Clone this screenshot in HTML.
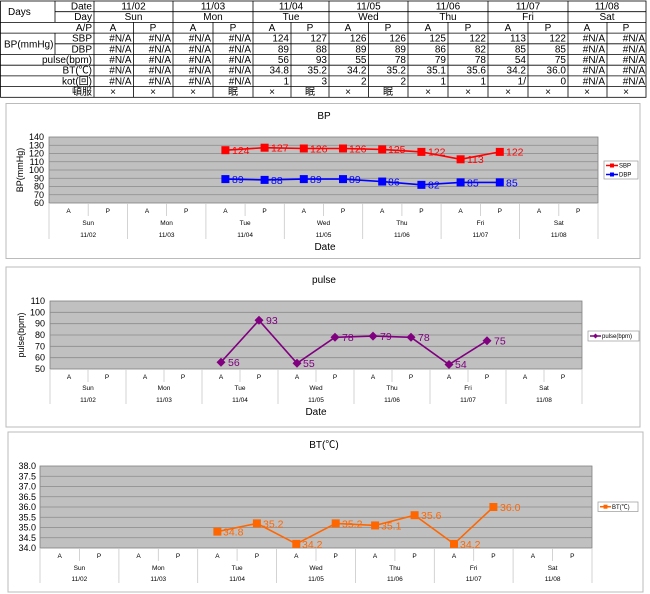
<!DOCTYPE html>
<html><head><meta charset="utf-8"><style>
html,body{margin:0;padding:0;background:#fff;width:650px;height:594px;overflow:hidden}
svg{display:block;font-family:"Liberation Sans","Noto Sans CJK JP",sans-serif}
.t{font-size:10px;fill:#000}
.e{text-anchor:end}.m{text-anchor:middle}
.ax{font-size:9px;fill:#000;text-anchor:end}
.c{font-size:6.5px;fill:#000;text-anchor:middle}
.ttl{font-size:10px;fill:#000;text-anchor:middle}
</style></head><body>
<svg width="650" height="594" viewBox="0 0 650 594" xmlns="http://www.w3.org/2000/svg">
<!-- TABLE -->
<g stroke="#000" stroke-width="0.8" fill="none">
<rect x="0.5" y="1" width="645.5" height="96.3"/>
<line x1="55" y1="1" x2="55" y2="22.4"/><line x1="55" y1="33.1" x2="55" y2="54.5"/>
<line x1="94" y1="1" x2="94" y2="97.3"/>
<line x1="173" y1="1" x2="173" y2="97.3"/><line x1="253" y1="1" x2="253" y2="97.3"/><line x1="329" y1="1" x2="329" y2="97.3"/><line x1="408" y1="1" x2="408" y2="97.3"/><line x1="488" y1="1" x2="488" y2="97.3"/><line x1="568" y1="1" x2="568" y2="97.3"/>
<g>
<line x1="133.5" y1="22.4" x2="133.5" y2="97.3"/><line x1="213" y1="22.4" x2="213" y2="97.3"/><line x1="291" y1="22.4" x2="291" y2="97.3"/><line x1="368.5" y1="22.4" x2="368.5" y2="97.3"/><line x1="448" y1="22.4" x2="448" y2="97.3"/><line x1="528" y1="22.4" x2="528" y2="97.3"/><line x1="607" y1="22.4" x2="607" y2="97.3"/>
</g>
<line x1="55" y1="11.7" x2="646" y2="11.7"/>
<line x1="0" y1="22.4" x2="646" y2="22.4"/>
<line x1="0" y1="33.1" x2="646" y2="33.1"/>
<line x1="55" y1="43.8" x2="646" y2="43.8"/>
<line x1="0" y1="54.5" x2="646" y2="54.5"/>
<line x1="0" y1="65.2" x2="646" y2="65.2"/>
<line x1="0" y1="75.9" x2="646" y2="75.9"/>
<line x1="0" y1="86.6" x2="646" y2="86.6"/>
</g>
<g class="t">
<text x="8" y="15">Days</text>
<text x="4" y="47.5">BP(mmHg)</text>
<text class="e" x="92" y="9.5">Date</text>
<text class="e" x="92" y="20.2">Day</text>
<text class="e" x="92" y="30.9">A/P</text>
<text class="e" x="92" y="41.6">SBP</text>
<text class="e" x="92" y="52.3">DBP</text>
<text class="e" x="92" y="63">pulse(bpm)</text>
<text class="e" x="92" y="73.7">BT(℃)</text>
<text class="e" x="92" y="84.4">kot(回)</text>
<text class="e" x="92" y="95.1">頓服</text>
<g class="m">
<text x="133.5" y="9.5">11/02</text><text x="213" y="9.5">11/03</text><text x="291" y="9.5">11/04</text><text x="368.5" y="9.5">11/05</text><text x="448" y="9.5">11/06</text><text x="528" y="9.5">11/07</text><text x="607" y="9.5">11/08</text>
<text x="133.5" y="20.2">Sun</text><text x="213" y="20.2">Mon</text><text x="291" y="20.2">Tue</text><text x="368.5" y="20.2">Wed</text><text x="448" y="20.2">Thu</text><text x="528" y="20.2">Fri</text><text x="607" y="20.2">Sat</text>
<text x="113" y="30.9">A</text><text x="153" y="30.9">P</text><text x="193" y="30.9">A</text><text x="233" y="30.9">P</text><text x="272" y="30.9">A</text><text x="310" y="30.9">P</text><text x="348" y="30.9">A</text><text x="388" y="30.9">P</text><text x="428" y="30.9">A</text><text x="468" y="30.9">P</text><text x="508" y="30.9">A</text><text x="548" y="30.9">P</text><text x="587" y="30.9">A</text><text x="626" y="30.9">P</text>
<text x="113" y="95.1">×</text><text x="153" y="95.1">×</text><text x="193" y="95.1">×</text><text x="233" y="95.1">眠</text><text x="272" y="95.1">×</text><text x="310" y="95.1">眠</text><text x="348" y="95.1">×</text><text x="388" y="95.1">眠</text><text x="428" y="95.1">×</text><text x="468" y="95.1">×</text><text x="508" y="95.1">×</text><text x="548" y="95.1">×</text><text x="587" y="95.1">×</text><text x="626" y="95.1">×</text>
</g>
<g class="e">
<text x="131.5" y="41.6">#N/A</text><text x="171" y="41.6">#N/A</text><text x="211" y="41.6">#N/A</text><text x="251" y="41.6">#N/A</text><text x="289" y="41.6">124</text><text x="327" y="41.6">127</text><text x="366.5" y="41.6">126</text><text x="406" y="41.6">126</text><text x="446" y="41.6">125</text><text x="486" y="41.6">122</text><text x="526" y="41.6">113</text><text x="566" y="41.6">122</text><text x="605" y="41.6">#N/A</text><text x="645" y="41.6">#N/A</text>
<text x="131.5" y="52.3">#N/A</text><text x="171" y="52.3">#N/A</text><text x="211" y="52.3">#N/A</text><text x="251" y="52.3">#N/A</text><text x="289" y="52.3">89</text><text x="327" y="52.3">88</text><text x="366.5" y="52.3">89</text><text x="406" y="52.3">89</text><text x="446" y="52.3">86</text><text x="486" y="52.3">82</text><text x="526" y="52.3">85</text><text x="566" y="52.3">85</text><text x="605" y="52.3">#N/A</text><text x="645" y="52.3">#N/A</text>
<text x="131.5" y="63">#N/A</text><text x="171" y="63">#N/A</text><text x="211" y="63">#N/A</text><text x="251" y="63">#N/A</text><text x="289" y="63">56</text><text x="327" y="63">93</text><text x="366.5" y="63">55</text><text x="406" y="63">78</text><text x="446" y="63">79</text><text x="486" y="63">78</text><text x="526" y="63">54</text><text x="566" y="63">75</text><text x="605" y="63">#N/A</text><text x="645" y="63">#N/A</text>
<text x="131.5" y="73.7">#N/A</text><text x="171" y="73.7">#N/A</text><text x="211" y="73.7">#N/A</text><text x="251" y="73.7">#N/A</text><text x="289" y="73.7">34.8</text><text x="327" y="73.7">35.2</text><text x="366.5" y="73.7">34.2</text><text x="406" y="73.7">35.2</text><text x="446" y="73.7">35.1</text><text x="486" y="73.7">35.6</text><text x="526" y="73.7">34.2</text><text x="566" y="73.7">36.0</text><text x="605" y="73.7">#N/A</text><text x="645" y="73.7">#N/A</text>
<text x="131.5" y="84.4">#N/A</text><text x="171" y="84.4">#N/A</text><text x="211" y="84.4">#N/A</text><text x="251" y="84.4">#N/A</text><text x="289" y="84.4">1</text><text x="327" y="84.4">3</text><text x="366.5" y="84.4">2</text><text x="406" y="84.4">2</text><text x="446" y="84.4">1</text><text x="486" y="84.4">1</text><text x="526" y="84.4">1/</text><text x="566" y="84.4">0</text><text x="605" y="84.4">#N/A</text><text x="645" y="84.4">#N/A</text>
</g>
</g>

<!-- BP CHART -->
<rect x="6" y="103.5" width="634" height="155" fill="#fff" stroke="#bbb"/>
<text class="ttl" x="324" y="119">BP</text>
<rect x="49" y="137" width="549" height="66" fill="#c0c0c0" stroke="#808080" stroke-width="0.8"/>
<g stroke="#8a8a8a" stroke-width="0.8">
<line x1="49" y1="145.25" x2="598" y2="145.25"/><line x1="49" y1="153.5" x2="598" y2="153.5"/><line x1="49" y1="161.75" x2="598" y2="161.75"/><line x1="49" y1="170" x2="598" y2="170"/><line x1="49" y1="178.25" x2="598" y2="178.25"/><line x1="49" y1="186.5" x2="598" y2="186.5"/><line x1="49" y1="194.75" x2="598" y2="194.75"/>
</g>
<g stroke="#c8c8c8" stroke-width="0.8">
<line x1="49" y1="203" x2="49" y2="239"/><line x1="127.4" y1="203" x2="127.4" y2="239"/><line x1="205.9" y1="203" x2="205.9" y2="239"/><line x1="284.3" y1="203" x2="284.3" y2="239"/><line x1="362.7" y1="203" x2="362.7" y2="239"/><line x1="441.1" y1="203" x2="441.1" y2="239"/><line x1="519.6" y1="203" x2="519.6" y2="239"/><line x1="598" y1="203" x2="598" y2="239"/>
<line x1="88.2" y1="203" x2="88.2" y2="216"/><line x1="166.6" y1="203" x2="166.6" y2="216"/><line x1="245.1" y1="203" x2="245.1" y2="216"/><line x1="323.5" y1="203" x2="323.5" y2="216"/><line x1="401.9" y1="203" x2="401.9" y2="216"/><line x1="480.4" y1="203" x2="480.4" y2="216"/><line x1="558.8" y1="203" x2="558.8" y2="216"/>
</g>
<g class="ax"><text x="44" y="140">140</text><text x="44" y="148.3">130</text><text x="44" y="156.5">120</text><text x="44" y="164.8">110</text><text x="44" y="173">100</text><text x="44" y="181.3">90</text><text x="44" y="189.5">80</text><text x="44" y="197.8">70</text><text x="44" y="206">60</text></g>
<text font-size="9" transform="translate(23,170) rotate(-90)" text-anchor="middle">BP(mmHg)</text>
<g class="c">
<text x="68.6" y="213">A</text><text x="107.8" y="213">P</text><text x="147" y="213">A</text><text x="186.2" y="213">P</text><text x="225.4" y="213">A</text><text x="264.6" y="213">P</text><text x="303.8" y="213">A</text><text x="343" y="213">P</text><text x="382.2" y="213">A</text><text x="421.4" y="213">P</text><text x="460.6" y="213">A</text><text x="499.8" y="213">P</text><text x="539" y="213">A</text><text x="578.2" y="213">P</text>
<text x="88.2" y="225">Sun</text><text x="166.6" y="225">Mon</text><text x="245.1" y="225">Tue</text><text x="323.5" y="225">Wed</text><text x="401.9" y="225">Thu</text><text x="480.4" y="225">Fri</text><text x="558.8" y="225">Sat</text>
<text x="88.2" y="237">11/02</text><text x="166.6" y="237">11/03</text><text x="245.1" y="237">11/04</text><text x="323.5" y="237">11/05</text><text x="401.9" y="237">11/06</text><text x="480.4" y="237">11/07</text><text x="558.8" y="237">11/08</text>
</g>
<text class="ttl" x="325" y="250">Date</text>
<polyline fill="none" stroke="#ff0000" stroke-width="1.6" points="225.4,150.2 264.6,147.7 303.8,148.5 343,148.5 382.2,149.4 421.4,151.9 460.6,159.3 499.8,151.9"/>
<g fill="#ff0000"><rect x="221.4" y="146.2" width="8" height="8"/><rect x="260.6" y="143.7" width="8" height="8"/><rect x="299.8" y="144.5" width="8" height="8"/><rect x="339" y="144.5" width="8" height="8"/><rect x="378.2" y="145.4" width="8" height="8"/><rect x="417.4" y="147.9" width="8" height="8"/><rect x="456.6" y="155.3" width="8" height="8"/><rect x="495.8" y="147.9" width="8" height="8"/></g>
<g fill="#ff0000" font-size="10.5"><text x="232" y="154">124</text><text x="271" y="151.5">127</text><text x="310" y="152.3">126</text><text x="349" y="152.3">126</text><text x="388" y="153.2">125</text><text x="428" y="155.7">122</text><text x="467" y="163.1">113</text><text x="506" y="155.7">122</text></g>
<polyline fill="none" stroke="#0000ff" stroke-width="1.6" points="225.4,179.1 264.6,179.9 303.8,179.1 343,179.1 382.2,181.55 421.4,184.85 460.6,182.4 499.8,182.4"/>
<g fill="#0000ff"><rect x="221.4" y="175.1" width="8" height="8"/><rect x="260.6" y="175.9" width="8" height="8"/><rect x="299.8" y="175.1" width="8" height="8"/><rect x="339" y="175.1" width="8" height="8"/><rect x="378.2" y="177.55" width="8" height="8"/><rect x="417.4" y="180.85" width="8" height="8"/><rect x="456.6" y="178.4" width="8" height="8"/><rect x="495.8" y="178.4" width="8" height="8"/></g>
<g fill="#0000ff" font-size="10.5"><text x="232" y="183">89</text><text x="271" y="183.8">88</text><text x="310" y="183">89</text><text x="349" y="183">89</text><text x="388" y="185.4">86</text><text x="428" y="188.7">82</text><text x="467" y="186.3">85</text><text x="506" y="186.3">85</text></g>
<rect x="604" y="161" width="34" height="18" fill="#fff" stroke="#999" stroke-width="0.7"/>
<line x1="606" y1="165.5" x2="618" y2="165.5" stroke="#f00" stroke-width="1.5"/><rect x="610" y="163.5" width="4" height="4" fill="#f00"/>
<line x1="606" y1="174.5" x2="618" y2="174.5" stroke="#00f" stroke-width="1.5"/><rect x="610" y="172.5" width="4" height="4" fill="#00f"/>
<g font-size="6"><text x="619" y="167.5">SBP</text><text x="619" y="176.5">DBP</text></g>

<!-- PULSE CHART -->
<rect x="6" y="267" width="634" height="160" fill="#fff" stroke="#bbb"/>
<text class="ttl" x="324" y="283">pulse</text>
<rect x="50" y="301" width="532" height="68" fill="#c0c0c0" stroke="#808080" stroke-width="0.8"/>
<g stroke="#8a8a8a" stroke-width="0.8">
<line x1="50" y1="312.3" x2="582" y2="312.3"/><line x1="50" y1="323.7" x2="582" y2="323.7"/><line x1="50" y1="335" x2="582" y2="335"/><line x1="50" y1="346.3" x2="582" y2="346.3"/><line x1="50" y1="357.7" x2="582" y2="357.7"/>
</g>
<g stroke="#c8c8c8" stroke-width="0.8">
<line x1="50" y1="369" x2="50" y2="404"/><line x1="126" y1="369" x2="126" y2="404"/><line x1="202" y1="369" x2="202" y2="404"/><line x1="278" y1="369" x2="278" y2="404"/><line x1="354" y1="369" x2="354" y2="404"/><line x1="430" y1="369" x2="430" y2="404"/><line x1="506" y1="369" x2="506" y2="404"/><line x1="582" y1="369" x2="582" y2="404"/>
<line x1="88" y1="369" x2="88" y2="382"/><line x1="164" y1="369" x2="164" y2="382"/><line x1="240" y1="369" x2="240" y2="382"/><line x1="316" y1="369" x2="316" y2="382"/><line x1="392" y1="369" x2="392" y2="382"/><line x1="468" y1="369" x2="468" y2="382"/><line x1="544" y1="369" x2="544" y2="382"/>
</g>
<g class="ax"><text x="45" y="304">110</text><text x="45" y="315.3">100</text><text x="45" y="326.7">90</text><text x="45" y="338">80</text><text x="45" y="349.3">70</text><text x="45" y="360.7">60</text><text x="45" y="372">50</text></g>
<text font-size="9" transform="translate(24,335) rotate(-90)" text-anchor="middle">pulse(bpm)</text>
<g class="c">
<text x="69" y="379">A</text><text x="107" y="379">P</text><text x="145" y="379">A</text><text x="183" y="379">P</text><text x="221" y="379">A</text><text x="259" y="379">P</text><text x="297" y="379">A</text><text x="335" y="379">P</text><text x="373" y="379">A</text><text x="411" y="379">P</text><text x="449" y="379">A</text><text x="487" y="379">P</text><text x="525" y="379">A</text><text x="563" y="379">P</text>
<text x="88" y="390">Sun</text><text x="164" y="390">Mon</text><text x="240" y="390">Tue</text><text x="316" y="390">Wed</text><text x="392" y="390">Thu</text><text x="468" y="390">Fri</text><text x="544" y="390">Sat</text>
<text x="88" y="402">11/02</text><text x="164" y="402">11/03</text><text x="240" y="402">11/04</text><text x="316" y="402">11/05</text><text x="392" y="402">11/06</text><text x="468" y="402">11/07</text><text x="544" y="402">11/08</text>
</g>
<text class="ttl" x="316" y="415">Date</text>
<polyline fill="none" stroke="#800080" stroke-width="1.6" points="221,362.2 259,320.3 297,363.3 335,337.3 373,336.1 411,337.3 449,364.5 487,340.7"/>
<g fill="#800080">
<polygon points="221,357.7 225.5,362.2 221,366.7 216.5,362.2"/><polygon points="259,315.8 263.5,320.3 259,324.8 254.5,320.3"/><polygon points="297,358.8 301.5,363.3 297,367.8 292.5,363.3"/><polygon points="335,332.8 339.5,337.3 335,341.8 330.5,337.3"/><polygon points="373,331.6 377.5,336.1 373,340.6 368.5,336.1"/><polygon points="411,332.8 415.5,337.3 411,341.8 406.5,337.3"/><polygon points="449,360 453.5,364.5 449,369 444.5,364.5"/><polygon points="487,336.2 491.5,340.7 487,345.2 482.5,340.7"/>
</g>
<g fill="#800080" font-size="10.5"><text x="228" y="366">56</text><text x="266" y="324">93</text><text x="303" y="367">55</text><text x="342" y="341">78</text><text x="380" y="340">79</text><text x="418" y="341">78</text><text x="455" y="368">54</text><text x="494" y="344.5">75</text></g>
<rect x="588" y="331" width="51" height="10" fill="#fff" stroke="#999" stroke-width="0.7"/>
<line x1="590" y1="336" x2="601" y2="336" stroke="#800080" stroke-width="1.5"/><polygon points="595.5,333.5 598,336 595.5,338.5 593,336" fill="#800080"/>
<text font-size="6" x="602" y="338">pulse(bpm)</text>

<!-- BT CHART -->
<rect x="8" y="432" width="635" height="160" fill="#fff" stroke="#bbb"/>
<text class="ttl" x="324" y="448">BT(℃)</text>
<rect x="40" y="466" width="552" height="82" fill="#c0c0c0" stroke="#808080" stroke-width="0.8"/>
<g stroke="#8a8a8a" stroke-width="0.8">
<line x1="40" y1="476.25" x2="592" y2="476.25"/><line x1="40" y1="486.5" x2="592" y2="486.5"/><line x1="40" y1="496.75" x2="592" y2="496.75"/><line x1="40" y1="507" x2="592" y2="507"/><line x1="40" y1="517.25" x2="592" y2="517.25"/><line x1="40" y1="527.5" x2="592" y2="527.5"/><line x1="40" y1="537.75" x2="592" y2="537.75"/>
</g>
<g stroke="#c8c8c8" stroke-width="0.8">
<line x1="40" y1="548" x2="40" y2="583"/><line x1="118.9" y1="548" x2="118.9" y2="583"/><line x1="197.7" y1="548" x2="197.7" y2="583"/><line x1="276.6" y1="548" x2="276.6" y2="583"/><line x1="355.4" y1="548" x2="355.4" y2="583"/><line x1="434.3" y1="548" x2="434.3" y2="583"/><line x1="513.1" y1="548" x2="513.1" y2="583"/><line x1="592" y1="548" x2="592" y2="583"/>
<line x1="79.4" y1="548" x2="79.4" y2="561"/><line x1="158.3" y1="548" x2="158.3" y2="561"/><line x1="237.1" y1="548" x2="237.1" y2="561"/><line x1="316" y1="548" x2="316" y2="561"/><line x1="394.9" y1="548" x2="394.9" y2="561"/><line x1="473.7" y1="548" x2="473.7" y2="561"/><line x1="552.6" y1="548" x2="552.6" y2="561"/>
</g>
<g class="ax"><text x="36" y="469">38.0</text><text x="36" y="479.3">37.5</text><text x="36" y="489.5">37.0</text><text x="36" y="499.8">36.5</text><text x="36" y="510">36.0</text><text x="36" y="520.3">35.5</text><text x="36" y="530.5">35.0</text><text x="36" y="540.8">34.5</text><text x="36" y="551">34.0</text></g>
<g class="c">
<text x="59.7" y="558">A</text><text x="99.1" y="558">P</text><text x="138.6" y="558">A</text><text x="178" y="558">P</text><text x="217.4" y="558">A</text><text x="256.9" y="558">P</text><text x="296.3" y="558">A</text><text x="335.7" y="558">P</text><text x="375.1" y="558">A</text><text x="414.6" y="558">P</text><text x="454" y="558">A</text><text x="493.4" y="558">P</text><text x="532.9" y="558">A</text><text x="572.3" y="558">P</text>
<text x="79.4" y="570">Sun</text><text x="158.3" y="570">Mon</text><text x="237.1" y="570">Tue</text><text x="316" y="570">Wed</text><text x="394.9" y="570">Thu</text><text x="473.7" y="570">Fri</text><text x="552.6" y="570">Sat</text>
<text x="79.4" y="581">11/02</text><text x="158.3" y="581">11/03</text><text x="237.1" y="581">11/04</text><text x="316" y="581">11/05</text><text x="394.9" y="581">11/06</text><text x="473.7" y="581">11/07</text><text x="552.6" y="581">11/08</text>
</g>
<polyline fill="none" stroke="#ff6600" stroke-width="1.6" points="217.4,531.6 256.9,523.4 296.3,543.9 335.7,523.4 375.1,525.45 414.6,515.2 454,543.9 493.4,507"/>
<g fill="#ff6600"><rect x="213.4" y="527.6" width="8" height="8"/><rect x="252.9" y="519.4" width="8" height="8"/><rect x="292.3" y="539.9" width="8" height="8"/><rect x="331.7" y="519.4" width="8" height="8"/><rect x="371.1" y="521.45" width="8" height="8"/><rect x="410.6" y="511.2" width="8" height="8"/><rect x="450" y="539.9" width="8" height="8"/><rect x="489.4" y="503" width="8" height="8"/></g>
<g fill="#ff6600" font-size="10.5"><text x="223" y="535.5">34.8</text><text x="263" y="527.3">35.2</text><text x="302" y="548">34.2</text><text x="342" y="527.3">35.2</text><text x="381" y="529.4">35.1</text><text x="421" y="519.1">35.6</text><text x="460" y="548">34.2</text><text x="500" y="511">36.0</text></g>
<rect x="598" y="502" width="40" height="9.5" fill="#fff" stroke="#999" stroke-width="0.7"/>
<line x1="600" y1="506.7" x2="611" y2="506.7" stroke="#ff6600" stroke-width="1.5"/><rect x="603.5" y="504.7" width="4" height="4" fill="#ff6600"/>
<text font-size="6" x="612" y="509">BT(℃)</text>
</svg>
</body></html>
